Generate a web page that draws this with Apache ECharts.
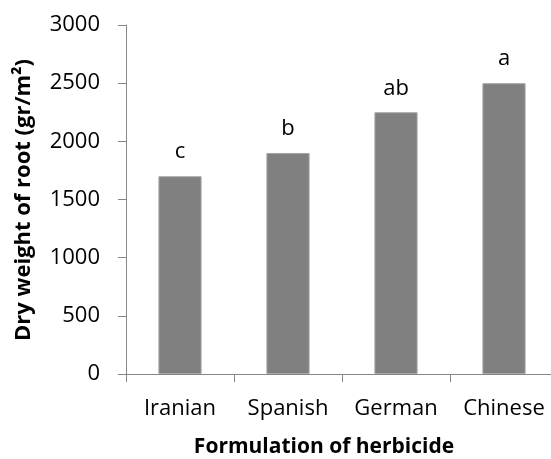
<!DOCTYPE html>
<html>
<head>
<meta charset="utf-8">
<script src="https://cdn.jsdelivr.net/npm/echarts@6/dist/echarts.min.js"></script>
<style>
  html, body { margin: 0; padding: 0; background: #fff; overflow: hidden; }
  /* the plot runs slightly past the right edge of the page, so the category axis is cut */
  #chart { width: 558px; height: 459px; }
</style>
</head>
<body>
<div id="chart"></div>
<script>
// Root dry weight by herbicide formulation, with mean-separation letters
const categories = ['Iranian', 'Spanish', 'German', 'Chinese'];
const dryWeight = [1700, 1900, 2250, 2500];
const groupLetters = ['c', 'b', 'ab', 'a'];
const yTicks = { min: 0, max: 3000, interval: 500 };

const FONT = '"Open Sans", "Noto Sans", sans-serif';
const AXIS_COLOR = '#868686';

const chart = echarts.init(document.getElementById('chart'), null, { renderer: 'canvas' });

chart.setOption({
  animation: false,
  backgroundColor: '#ffffff',
  grid: { left: 126, top: 25, right: 0, bottom: 85, containLabel: false },
  xAxis: {
    type: 'category',
    data: categories,
    axisLine: { lineStyle: { color: AXIS_COLOR, width: 1 } },
    axisTick: { show: true, length: 8, lineStyle: { color: AXIS_COLOR } },
    axisLabel: { interval: 0, color: '#000', fontFamily: FONT, fontSize: 22, margin: 24 }
  },
  yAxis: {
    type: 'value',
    min: yTicks.min,
    max: yTicks.max,
    interval: yTicks.interval,
    splitLine: { show: false },
    axisLine: { show: true, lineStyle: { color: AXIS_COLOR, width: 1 } },
    axisTick: { show: true, length: 8, lineStyle: { color: AXIS_COLOR } },
    axisLabel: {
      color: '#000', fontFamily: FONT, fontSize: 22, margin: 26,
      formatter: v => String(v)
    }
  },
  series: [{
    type: 'bar',
    data: dryWeight,
    barWidth: '40%',
    itemStyle: { color: '#808080', borderColor: '#a6a6a6', borderWidth: 1 },
    label: {
      show: true,
      position: 'top',
      distance: 13,
      color: '#000',
      fontFamily: FONT,
      fontSize: 22,
      formatter: p => groupLetters[p.dataIndex]
    }
  }],
  graphic: [
    {
      type: 'text',
      x: 24, y: 200,
      rotation: Math.PI / 2,
      style: {
        text: 'Dry weight of root (gr/m²)',
        font: 'bold 22px ' + FONT,
        fill: '#000',
        align: 'center',
        verticalAlign: 'middle'
      }
    },
    {
      type: 'text',
      x: 324, y: 447,
      style: {
        text: 'Formulation of herbicide',
        font: 'bold 21px ' + FONT,
        fill: '#000',
        align: 'center',
        verticalAlign: 'middle'
      }
    }
  ]
});
</script>
</body>
</html>
